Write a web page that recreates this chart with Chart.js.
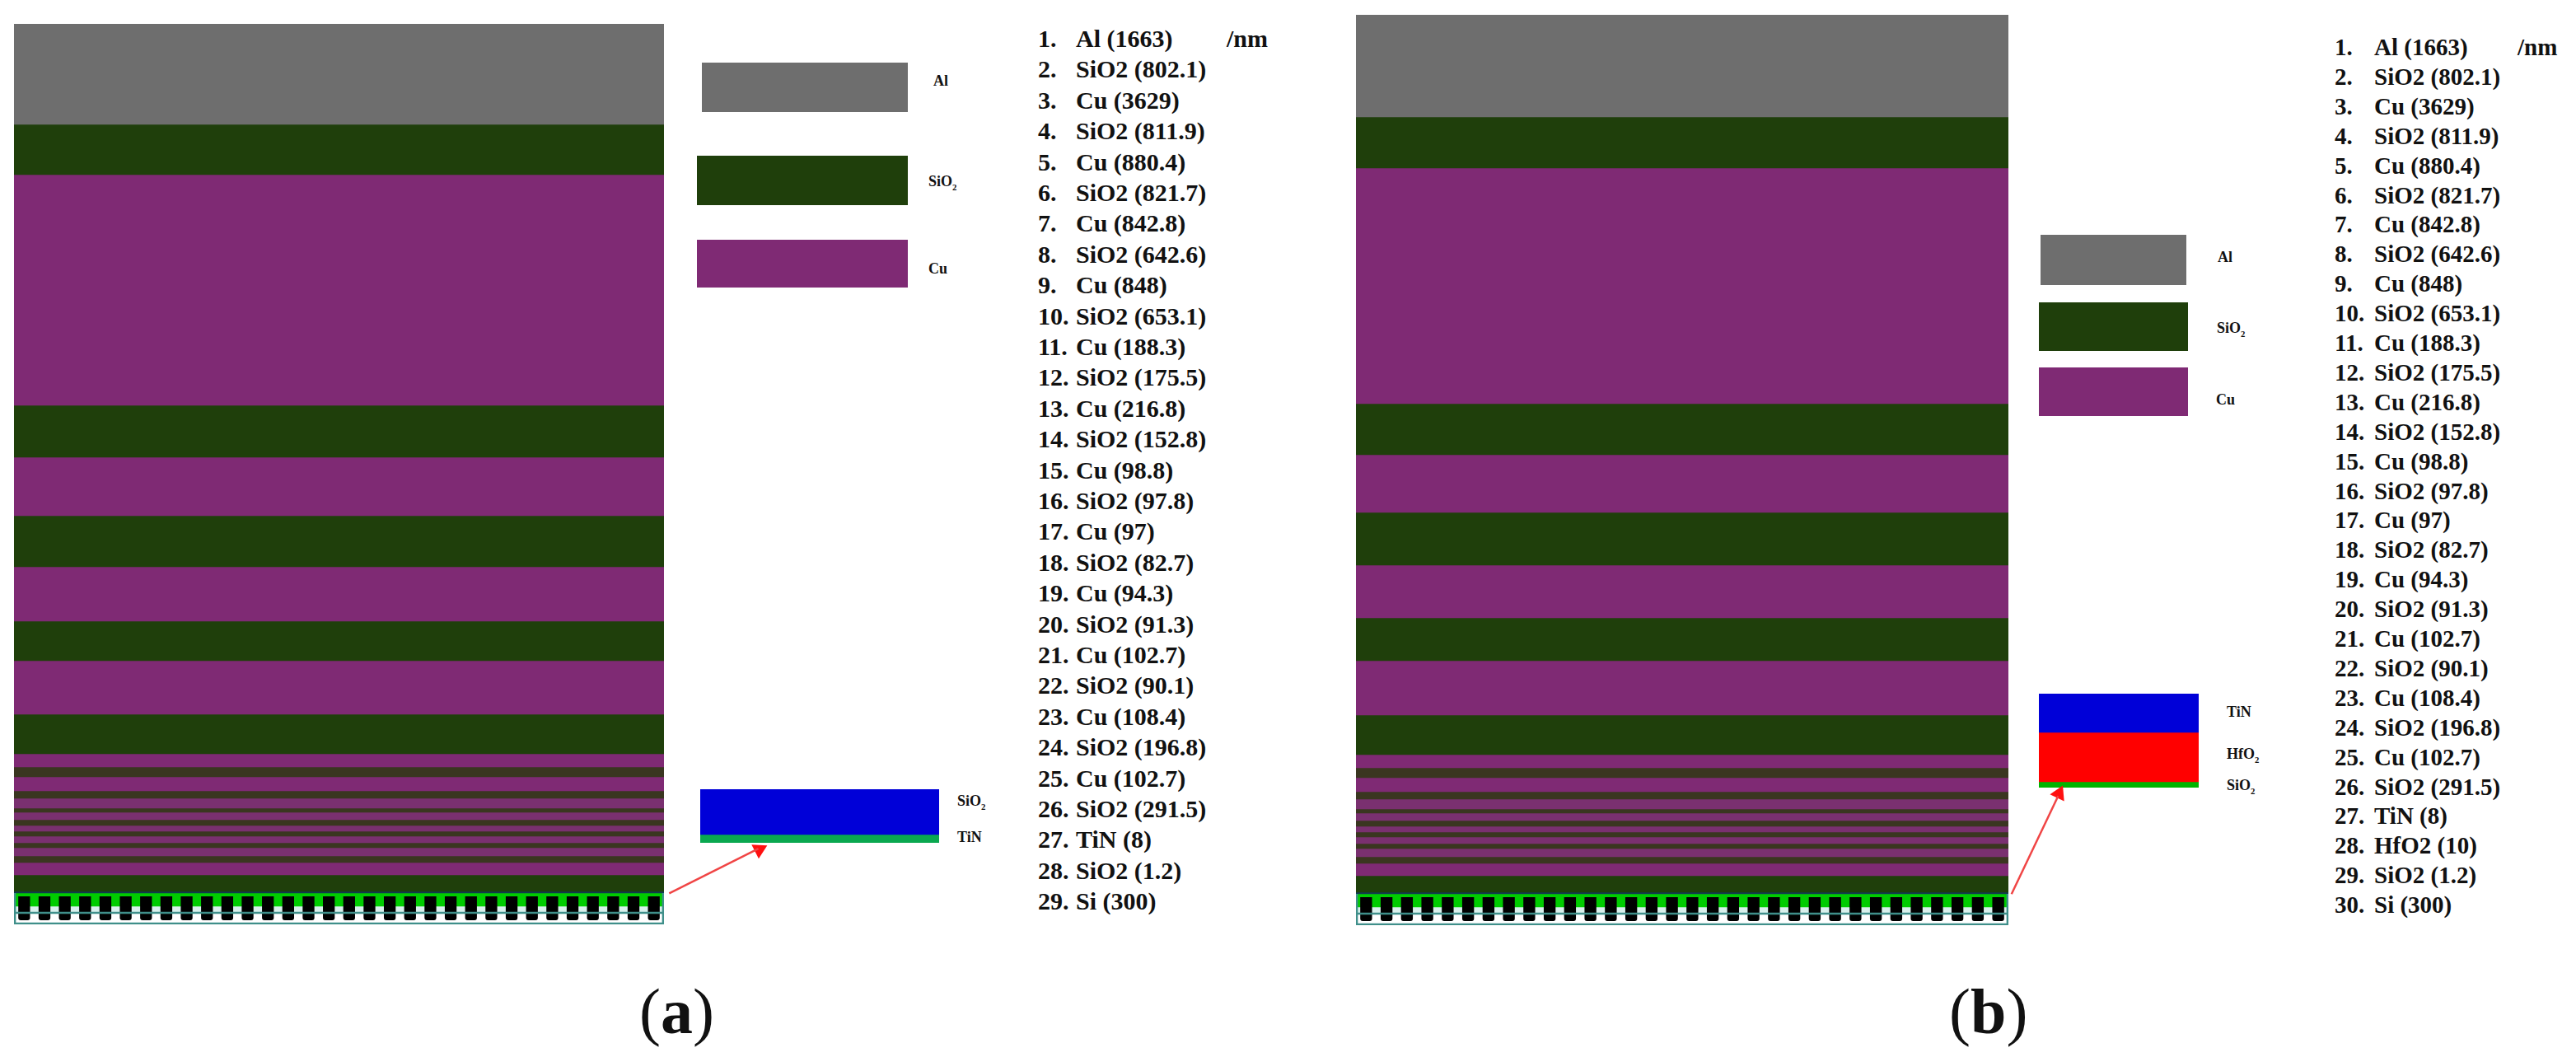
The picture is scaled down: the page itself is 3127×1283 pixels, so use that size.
<!DOCTYPE html>
<html>
<head>
<meta charset="utf-8">
<title>Layer stacks</title>
<script src="https://cdn.jsdelivr.net/npm/chart.js@4"></script>
<style>
  html, body { margin: 0; background: #fff; overflow: hidden; }
  #page { position: relative; width: 3127px; height: 1283px; }
  canvas { position: absolute; }
  .txt { position: absolute; white-space: nowrap; color: #111; transform: translateY(-50%);
         font-family: "Liberation Serif", serif; font-weight: bold; line-height: 1; }
  .txt sub { font-size: 60%; line-height: 0; }
</style>
</head>
<body>
<div id="page"></div>
<script>
// printed layer list
const listMaterialsA = ["Al","SiO2","Cu","SiO2","Cu","SiO2","Cu","SiO2","Cu","SiO2","Cu","SiO2","Cu","SiO2","Cu","SiO2","Cu","SiO2","Cu","SiO2","Cu","SiO2","Cu","SiO2","Cu","SiO2","TiN","SiO2","Si"];
const listThicknessA = [1663,802.1,3629,811.9,880.4,821.7,842.8,642.6,848,653.1,188.3,175.5,216.8,152.8,98.8,97.8,97,82.7,94.3,91.3,102.7,90.1,108.4,196.8,102.7,291.5,8,1.2,300];
const listMaterialsB = ["Al","SiO2","Cu","SiO2","Cu","SiO2","Cu","SiO2","Cu","SiO2","Cu","SiO2","Cu","SiO2","Cu","SiO2","Cu","SiO2","Cu","SiO2","Cu","SiO2","Cu","SiO2","Cu","SiO2","TiN","HfO2","SiO2","Si"];
const listThicknessB = [1663,802.1,3629,811.9,880.4,821.7,842.8,642.6,848,653.1,188.3,175.5,216.8,152.8,98.8,97.8,97,82.7,94.3,91.3,102.7,90.1,108.4,196.8,102.7,291.5,8,10,1.2,300];

// band heights as drawn in the picture, top to bottom
const bandMaterials = ["Al","SiO2","Cu","SiO2","Cu","SiO2","Cu","SiO2","Cu","SiO2","Cu","SiO2","Cu","SiO2","Cu","SiO2","Cu","SiO2","Cu","SiO2","Cu","SiO2","Cu","SiO2","Cu","SiO2"];
const bandsA = [122,61,280,63,71,62,66,48,65,48,16,12,17,9,12,5,9,7,7,6,8,6,10,8,15,20];
const bandsB = [124,62,286,62,70,64,64,52,66,48,16,12,17,9,12,5,9,7,7,6,8,6,10,8,15,20];

// device strip under the stack
const stripBands = [2,16,7,15];
const toothTop = [6,6,6,6,6,6,6,6,6,6,6,6,6,6,6,6,6,6,6,6,6,6,6,6,6,6,6,6,6,6,6,6];
const toothBottom = [35,35,35,35,35,35,35,35,35,35,35,35,35,35,35,35,35,35,35,35,35,35,35,35,35,35,35,35,35,35,35,35];

// enlarged insets
const insetBandsA = [55,10];
const insetBandsB = [47,60,7];

const COLORS = { Al: "#6e6e6e", SiO2: "#1f3f0b", Cu: "#7f2a74" };
// very thin bands are blurred together in the picture
const THIN_COLORS = { SiO2: "#3a3620", Cu: "#7a3070" };
const STRIP_COLORS = ["#123a50", "#00cc00", "#d8f0ec", "#ffffff"];
const TEAL = "#3f8f8a";

const page = document.getElementById("page");

function addCanvas(x, y, w, h) {
  const c = document.createElement("canvas");
  c.width = w;
  c.height = h;
  c.style.left = x + "px";
  c.style.top = y + "px";
  c.style.width = w + "px";
  c.style.height = h + "px";
  page.appendChild(c);
  return c.getContext("2d");
}

function addText(html, x, y, size) {
  const d = document.createElement("div");
  d.className = "txt";
  d.innerHTML = html;
  d.style.left = x + "px";
  d.style.top = y + "px";
  d.style.fontSize = size + "px";
  page.appendChild(d);
  return d;
}

const baseOptions = {
  responsive: false,
  animation: false,
  devicePixelRatio: 1,
  layout: { padding: 0 },
  plugins: { legend: { display: false }, tooltip: { enabled: false } }
};

function drawBands(x, y, w, bands, colors, overlays) {
  const total = bands.reduce((a, b) => a + b, 0);
  let pos = 0;
  const layers = bands.map((h, i) => {
    const ds = { data: [[pos, pos + h]], backgroundColor: colors[i], barPercentage: 1, categoryPercentage: 1 };
    pos += h;
    return ds;
  });
  return new Chart(addCanvas(x, y, w, total), {
    type: "bar",
    data: { labels: ["stack"], datasets: (overlays || []).concat(layers) },
    options: {
      ...baseOptions,
      datasets: { bar: { grouped: false } },
      scales: {
        x: { display: false },
        x2: { display: false, type: "category", axis: "x", labels: toothTop.map((_, i) => String(i + 1)) },
        y: { display: false, reverse: true, min: 0, max: total }
      }
    }
  });
}

function drawStack(x, y, w, bands) {
  const above = bands.reduce((a, b) => a + b, 0);
  const stripTotal = stripBands.reduce((a, b) => a + b, 0);
  const overlays = [
    { data: [[above + 2, above + stripTotal]], backgroundColor: "rgba(0,0,0,0)", borderColor: TEAL, borderWidth: 2, barPercentage: 1, categoryPercentage: 1 },
    { data: [[above + 25, above + 27]], backgroundColor: TEAL, barPercentage: 1, categoryPercentage: 1 },
    { xAxisID: "x2", data: toothTop.map((t, i) => [above + t, above + toothBottom[i]]), backgroundColor: "#000", barPercentage: 0.58, categoryPercentage: 1, borderRadius: 3 }
  ];
  const colors = bandMaterials.map((m, i) => (bands[i] < 13 ? THIN_COLORS[m] : COLORS[m])).concat(STRIP_COLORS);
  drawBands(x, y, w, bands.concat(stripBands), colors, overlays);
}

function drawList(materials, values, xNum, xName, yFirst, pitch, size) {
  materials.forEach((m, i) => {
    const y = yFirst + pitch * i;
    addText((i + 1) + ".", xNum, y, size);
    addText(m + " (" + values[i] + ")", xName, y, size);
  });
}

// panel (a)
drawStack(17, 29, 789, bandsA);
drawBands(852, 76, 250, [60], [COLORS.Al]);
drawBands(846, 189, 256, [60], [COLORS.SiO2]);
drawBands(846, 291, 256, [58], [COLORS.Cu]);
drawBands(850, 958, 290, insetBandsA, ["#0000d8", "#0aa850"]);
addText("Al", 1133, 98, 18);
addText("SiO<sub>2</sub>", 1127, 220, 18);
addText("Cu", 1127, 326, 18);
addText("SiO<sub>2</sub>", 1162, 972, 18);
addText("TiN", 1162, 1016, 18);
drawList(listMaterialsA, listThicknessA, 1260, 1306, 47, 37.4, 30);
addText("/nm", 1489, 47, 30);

// panel (b)
drawStack(1646, 18, 792, bandsB);
drawBands(2477, 285, 177, [61], [COLORS.Al]);
drawBands(2475, 367, 181, [59], [COLORS.SiO2]);
drawBands(2475, 446, 181, [59], [COLORS.Cu]);
drawBands(2475, 842, 194, insetBandsB, ["#0000d8", "#ff0000", "#00b400"]);
addText("Al", 2692, 312, 18);
addText("SiO<sub>2</sub>", 2691, 398, 18);
addText("Cu", 2690, 485, 18);
addText("TiN", 2703, 864, 18);
addText("HfO<sub>2</sub>", 2703, 915, 18);
addText("SiO<sub>2</sub>", 2703, 953, 18);
drawList(listMaterialsB, listThicknessB, 2834, 2882, 57, 35.9, 29);
addText("/nm", 3056, 57, 29);

// captions
addText('<span style="font-weight:normal">(</span>a<span style="font-weight:normal">)</span>', 776, 1228, 78);
addText('<span style="font-weight:normal">(</span>b<span style="font-weight:normal">)</span>', 2366, 1228, 78);

// red arrows from the strip to the insets, on a page-sized overlay
new Chart(addCanvas(0, 0, 3127, 1283), {
  type: "scatter",
  data: {
    datasets: [
      { data: [{ x: 807, y: 1092 }, { x: 916, y: 1037 }], showLine: true, borderColor: "#f04545", borderWidth: 2.5, pointRadius: 0 },
      { data: [{ x: 917, y: 1038 }], pointStyle: "triangle", rotation: 63, pointRadius: 11, backgroundColor: "#ff1010", borderWidth: 0 },
      { data: [{ x: 2448, y: 1093 }, { x: 2505, y: 972 }], showLine: true, borderColor: "#f04545", borderWidth: 2.5, pointRadius: 0 },
      { data: [{ x: 2506, y: 969 }], pointStyle: "triangle", rotation: 25, pointRadius: 11, backgroundColor: "#ff1010", borderWidth: 0 }
    ]
  },
  options: {
    ...baseOptions,
    scales: {
      x: { display: false, min: 0, max: 3127 },
      y: { display: false, reverse: true, min: 0, max: 1283 }
    }
  }
});
</script>
</body>
</html>
